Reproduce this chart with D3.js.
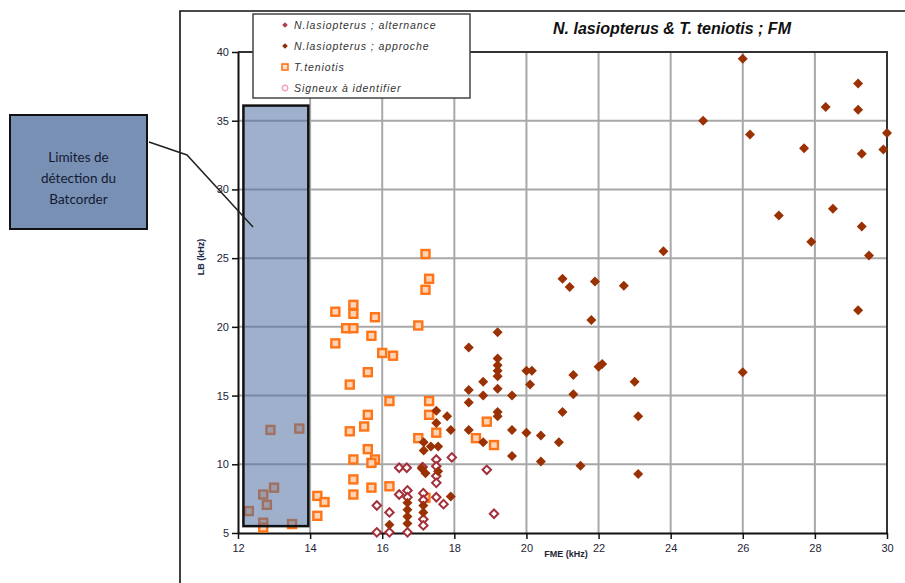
<!DOCTYPE html>
<html>
<head>
<meta charset="utf-8">
<script src="https://cdn.jsdelivr.net/npm/d3@7"></script>
<style>
  body { margin: 0; background: #fff; }
</style>
</head>
<body>
<script>
// ---- data (FME kHz, LB kHz) ----
const approche = [
  [26.0,39.5],[29.2,37.7],[28.3,36.0],[29.2,35.8],[24.9,35.0],[30.0,34.1],[26.2,34.0],
  [27.7,33.0],[29.3,32.6],[29.9,32.9],[28.5,28.6],[27.0,28.1],[29.3,27.3],[27.9,26.2],
  [29.5,25.2],[23.8,25.5],[29.2,21.2],[22.7,23.0],[21.0,23.5],[21.2,22.9],[21.9,23.3],
  [21.8,20.5],[26.0,16.7],[23.0,16.0],[23.1,13.5],[23.1,9.3],[22.0,17.1],[22.1,17.3],
  [19.2,19.6],[18.4,18.5],[19.2,17.7],[19.2,17.2],[19.2,16.8],[19.2,16.4],[19.2,15.5],
  [20.0,16.8],[20.15,16.8],[20.1,15.8],[21.3,16.5],[21.3,15.1],[18.8,16.0],[18.4,15.4],
  [18.8,15.0],[18.4,14.5],[19.6,15.0],[19.2,13.8],[19.2,13.5],[21.0,13.8],[17.5,13.9],
  [17.8,13.5],[17.5,13.0],[17.9,12.5],[18.4,12.5],[18.8,11.6],[19.6,12.5],[20.0,12.3],
  [20.4,12.1],[20.9,11.6],[19.6,10.6],[20.4,10.2],[21.5,9.9],[17.15,11.6],[17.35,11.3],
  [17.55,11.3],[17.15,11.0],[17.1,9.7],[17.2,9.35],[17.55,9.5],[17.9,7.65],[16.2,5.6],
  [16.7,7.2],[16.7,6.7],[16.7,6.2],[16.7,5.7],[17.14,7.0],[17.14,6.5]
];
const alternance = [
  [16.47,9.75],[16.68,9.75],[17.12,9.8],[17.5,10.35],[17.5,9.85],[17.5,9.15],[17.5,8.65],
  [17.93,10.5],[17.5,7.6],[17.7,7.1],[16.47,7.8],[15.85,7.0],[16.2,6.5],[16.2,5.05],
  [15.85,5.05],[16.7,5.05],[16.7,8.1],[16.7,7.6],[17.14,7.9],[17.14,7.4],[17.14,6.0],
  [17.14,5.55],[18.9,9.6],[19.1,6.4]
];
const teniotis = [
  [17.2,25.3],[17.3,23.5],[17.2,22.7],[15.2,21.6],[15.2,20.95],[14.7,21.1],[15.8,20.7],
  [15.0,19.9],[15.2,19.9],[17.0,20.1],[14.7,18.8],[15.7,19.35],[16.0,18.1],[16.3,17.9],
  [15.6,16.7],[15.1,15.8],[16.2,14.6],[17.3,14.6],[15.6,13.6],[17.3,13.6],[15.5,12.75],
  [15.1,12.4],[17.5,12.3],[12.9,12.5],[13.7,12.6],[15.6,11.1],[15.2,10.35],[15.8,10.35],
  [15.7,10.1],[15.2,8.9],[15.7,8.3],[15.2,7.8],[14.2,7.7],[14.4,7.25],[14.2,6.25],
  [16.2,8.4],[17.0,11.9],[17.2,7.55],[13.0,8.3],[12.7,7.8],[12.8,7.05],[12.3,6.6],
  [12.7,5.75],[12.7,5.4],[13.5,5.65],[18.9,13.1],[18.6,11.9],[19.1,11.4]
];
const signeux = [];

const legendLabels = ["N.lasiopterus ; alternance", "N.lasiopterus ; approche", "T.teniotis", "Signeux à identifier"];
const fmeTicks = [12, 14, 16, 18, 20, 22, 24, 26, 28, 30];
const lbTicks = [5, 10, 15, 20, 25, 30, 35, 40];
const batcorderFME = [12.15, 13.95];
const batcorderLB = [5.5, 36.1];
const calloutLines = ["Limites de", "détection du", "Batcorder"];

const width = 905, height = 583;
const margin = {top: 52, right: 18, bottom: 50, left: 238};
const sans = "'Liberation Sans', Arial, sans-serif";

const x = d3.scaleLinear().domain([12, 30]).range([margin.left, width - margin.right]);
const y = d3.scaleLinear().domain([5, 40]).range([height - margin.bottom, margin.top]);

const svg = d3.select("body").append("svg")
  .attr("width", width).attr("height", height)
  .style("font-family", sans);

svg.append("rect").attr("width", width).attr("height", height).attr("fill", "#fff");

// outer chart frame
svg.append("path")
  .attr("d", `M180,${height}V11H${width}`)
  .attr("fill", "none").attr("stroke", "#111").attr("stroke-width", 1.6);

// gridlines
svg.append("g").selectAll("line").data(fmeTicks.slice(1, -1)).join("line")
  .attr("x1", d => x(d)).attr("x2", d => x(d))
  .attr("y1", y(40)).attr("y2", y(5))
  .attr("stroke", "#a8a8a8").attr("stroke-width", 2);
svg.append("g").selectAll("line").data(lbTicks.slice(1, -1)).join("line")
  .attr("y1", d => y(d)).attr("y2", d => y(d))
  .attr("x1", x(12)).attr("x2", x(30))
  .attr("stroke", "#a8a8a8").attr("stroke-width", 2);

// plot border top/right
svg.append("path")
  .attr("d", `M${x(12)},${y(40)}H${x(30)}V${y(5)}`)
  .attr("fill", "none").attr("stroke", "#333").attr("stroke-width", 2);

// axes
const xAxis = svg.append("g").attr("transform", `translate(0,${y(5)})`)
  .call(d3.axisBottom(x).tickValues(fmeTicks).tickSize(6).tickSizeOuter(0));
const yAxis = svg.append("g").attr("transform", `translate(${x(12)},0)`)
  .call(d3.axisLeft(y).tickValues(lbTicks).tickSize(6).tickSizeOuter(0));
[xAxis, yAxis].forEach(g => {
  g.attr("font-family", null).attr("font-size", null);
  g.select(".domain").attr("stroke", "#111").attr("stroke-width", 2);
  g.selectAll(".tick line").attr("stroke", "#111").attr("stroke-width", 1.5);
  g.selectAll(".tick text").style("font-size", "11px").attr("fill", "#1d2535");
});
xAxis.selectAll(".tick text").attr("dy", "0.9em");
yAxis.selectAll(".tick text").attr("x", -9);

// markers
const diamond = d3.symbol().type(d3.symbolSquare).size(50);
const diamondOpen = d3.symbol().type(d3.symbolSquare).size(36);

svg.append("g").selectAll("rect").data(teniotis).join("rect")
  .attr("x", d => x(d[0]) - 4).attr("y", d => y(d[1]) - 4)
  .attr("width", 8).attr("height", 8)
  .attr("fill", "#ffd3b3").attr("stroke", "#ff7417").attr("stroke-width", 2.4);

svg.append("g").selectAll("path").data(alternance).join("path")
  .attr("d", diamondOpen)
  .attr("transform", d => `translate(${x(d[0])},${y(d[1])}) rotate(45)`)
  .attr("fill", "#fff").attr("stroke", "#a3303a").attr("stroke-width", 2);

svg.append("g").selectAll("path").data(approche).join("path")
  .attr("d", diamond)
  .attr("transform", d => `translate(${x(d[0])},${y(d[1])}) rotate(45)`)
  .attr("fill", "#9a3103");

svg.append("g").selectAll("circle").data(signeux).join("circle")
  .attr("cx", d => x(d[0])).attr("cy", d => y(d[1])).attr("r", 3.5)
  .attr("fill", "#fff").attr("stroke", "#f2a0b2").attr("stroke-width", 1.5);

// Batcorder detection limit box
svg.append("rect")
  .attr("x", x(batcorderFME[0])).attr("y", y(batcorderLB[1]))
  .attr("width", x(batcorderFME[1]) - x(batcorderFME[0]))
  .attr("height", y(batcorderLB[0]) - y(batcorderLB[1]))
  .attr("fill", "#4f6fa0").attr("fill-opacity", 0.55)
  .attr("stroke", "#111").attr("stroke-width", 2.5);

// callout
svg.append("polyline")
  .attr("points", "149,142 187,155 253,227")
  .attr("fill", "none").attr("stroke", "#222").attr("stroke-width", 1.5);
svg.append("rect")
  .attr("x", 10).attr("y", 115).attr("width", 137).attr("height", 114)
  .attr("fill", "#7890b3").attr("stroke", "#111").attr("stroke-width", 2);
svg.append("g").selectAll("text").data(calloutLines).join("text")
  .attr("x", 78.5).attr("y", (d, i) => 162 + i * 21)
  .attr("text-anchor", "middle")
  .style("font-family", "Lato, 'Open Sans', sans-serif").style("font-size", "13.5px")
  .attr("fill", "#141a33")
  .text(d => d);

// axis titles
svg.append("text")
  .attr("transform", "translate(204,257) rotate(-90)")
  .attr("text-anchor", "middle").style("font-size", "9px").attr("font-weight", "bold")
  .attr("fill", "#1d2a4a").text("LB (kHz)");
svg.append("text")
  .attr("x", 566).attr("y", 557)
  .attr("text-anchor", "middle").style("font-size", "9px").attr("font-weight", "bold")
  .attr("fill", "#1d2535").text("FME (kHz)");

// title
svg.append("text")
  .attr("x", 672).attr("y", 34)
  .attr("text-anchor", "middle").style("font-size", "16px")
  .attr("font-weight", "bold").attr("font-style", "italic")
  .attr("fill", "#111").text("N. lasiopterus & T. teniotis ; FM");

// legend
const legend = svg.append("g");
legend.append("rect")
  .attr("x", 253).attr("y", 14).attr("width", 217).attr("height", 84)
  .attr("fill", "#fff").attr("stroke", "#444").attr("stroke-width", 1.5);
const rows = legend.selectAll("g").data(legendLabels).join("g")
  .attr("transform", (d, i) => `translate(285,${25 + i * 21})`);
rows.append("text")
  .attr("x", 9).attr("dy", "0.35em")
  .style("font-size", "10.5px").attr("font-style", "italic").attr("letter-spacing", 0.9)
  .attr("fill", "#333").text(d => d);
rows.filter((d, i) => i === 0).append("path")
  .attr("d", d3.symbol().type(d3.symbolSquare).size(16)).attr("transform", "rotate(45)")
  .attr("fill", "#b0404c");
rows.filter((d, i) => i === 1).append("path")
  .attr("d", d3.symbol().type(d3.symbolSquare).size(16)).attr("transform", "rotate(45)")
  .attr("fill", "#8f2a05");
rows.filter((d, i) => i === 2).append("rect")
  .attr("x", -3).attr("y", -3).attr("width", 6).attr("height", 6)
  .attr("fill", "#ffe0c8").attr("stroke", "#ff7417").attr("stroke-width", 1.6);
rows.filter((d, i) => i === 3).append("circle")
  .attr("r", 2.8).attr("fill", "#fff").attr("stroke", "#f2a0b2").attr("stroke-width", 1.4);
</script>
</body>
</html>
